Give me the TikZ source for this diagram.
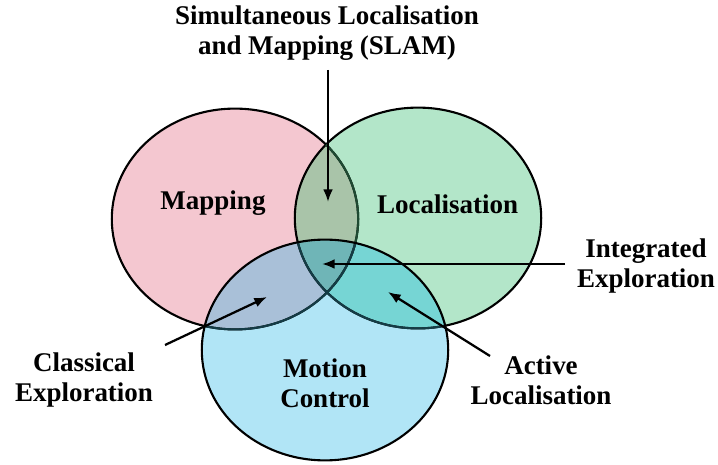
\documentclass[tikz,border=0pt]{standalone}
\usepackage{fontspec}
\setmainfont{Liberation Serif}
\usetikzlibrary{arrows.meta}

\definecolor{mapcol}{HTML}{F4C7D0}
\definecolor{loccol}{HTML}{B3E6C9}
\definecolor{motcol}{HTML}{B1E5F6}
\definecolor{mlcol}{HTML}{A9C4A9}
\definecolor{mccol}{HTML}{A9C0D8}
\definecolor{lccol}{HTML}{76D5D4}
\definecolor{allcol}{HTML}{6FB5B7}
\definecolor{edgegreen}{HTML}{1E4A32}
\definecolor{edgeteal}{HTML}{143C46}

% the three sets
\newcommand{\mapset}{(5.875,6.125) ellipse (3.08 and 2.76)}
\newcommand{\locset}{(10.45,6.15) ellipse (3.08 and 2.76)}
\newcommand{\motset}{(8.125,2.85) ellipse (3.08 and 2.76)}

\begin{document}
\begin{tikzpicture}[
        boldtext/.style={font=\bfseries\fontsize{19.2}{21.5}\selectfont, align=center, inner sep=2pt},
        ring/.style={line width=1.5pt},
        pointer/.style={-{Latex[length=9pt,width=7pt]}, line width=1.6pt}
    ]
        \useasboundingbox (0,0) rectangle (17.95,11.6);

        % Set fills
        \fill[mapcol] \mapset;
        \fill[loccol] \locset;
        \fill[motcol] \motset;

        % Overlaps
        \begin{scope}
            \clip \mapset;
            \fill[mlcol] \locset;
            \fill[mccol] \motset;
        \end{scope}
        \begin{scope}
            \clip \locset;
            \fill[lccol] \motset;
        \end{scope}
        \begin{scope}
            \clip \mapset;
            \clip \locset;
            \fill[allcol] \motset;
        \end{scope}

        % Outlines, the lower ones tinted where they sit under another set
        \draw[ring] \mapset;
        \draw[ring] \locset;
        \begin{scope}
            \clip \locset;
            \draw[ring, draw=edgegreen] \mapset;
        \end{scope}
        \begin{scope}
            \clip \motset;
            \draw[ring, draw=edgeteal] \mapset;
            \draw[ring, draw=edgeteal] \locset;
        \end{scope}
        \draw[ring] \motset;

        % Set names
        \node[boldtext] (mapping) at (5.325,6.525) {Mapping};
        \node[boldtext] (localisation) at (11.19,6.5) {Localisation};
        \node[boldtext] (motion) at (8.125,2.025) {Motion\\Control};

        % Outside labels
        \node[boldtext] (slam) at (8.175,10.775) {Simultaneous Localisation\\and Mapping (SLAM)};
        \node[boldtext] (integrated) at (16.15,4.95) {Integrated\\Exploration};
        \node[boldtext] (active) at (13.525,2.1) {Active\\Localisation};
        \node[boldtext] (classical) at (2.1,2.1) {Classical\\Exploration};

        % Arrow ends
        \coordinate (slam-from) at (8.2,9.85);
        \coordinate (slam-to) at (8.2,6.55);
        \coordinate (integrated-from) at (14.125,5.0);
        \coordinate (integrated-to) at (8.05,5.0);
        \coordinate (active-from) at (12.25,2.7);
        \coordinate (active-to) at (9.7,4.3);
        \coordinate (classical-from) at (4.125,2.975);
        \coordinate (classical-to) at (6.675,4.175);

        \draw[pointer] (slam-from) -- (slam-to);
        \draw[pointer] (integrated-from) -- (integrated-to);
        \draw[pointer] (active-from) -- (active-to);
        \draw[pointer] (classical-from) -- (classical-to);
    \end{tikzpicture}
\end{document}
